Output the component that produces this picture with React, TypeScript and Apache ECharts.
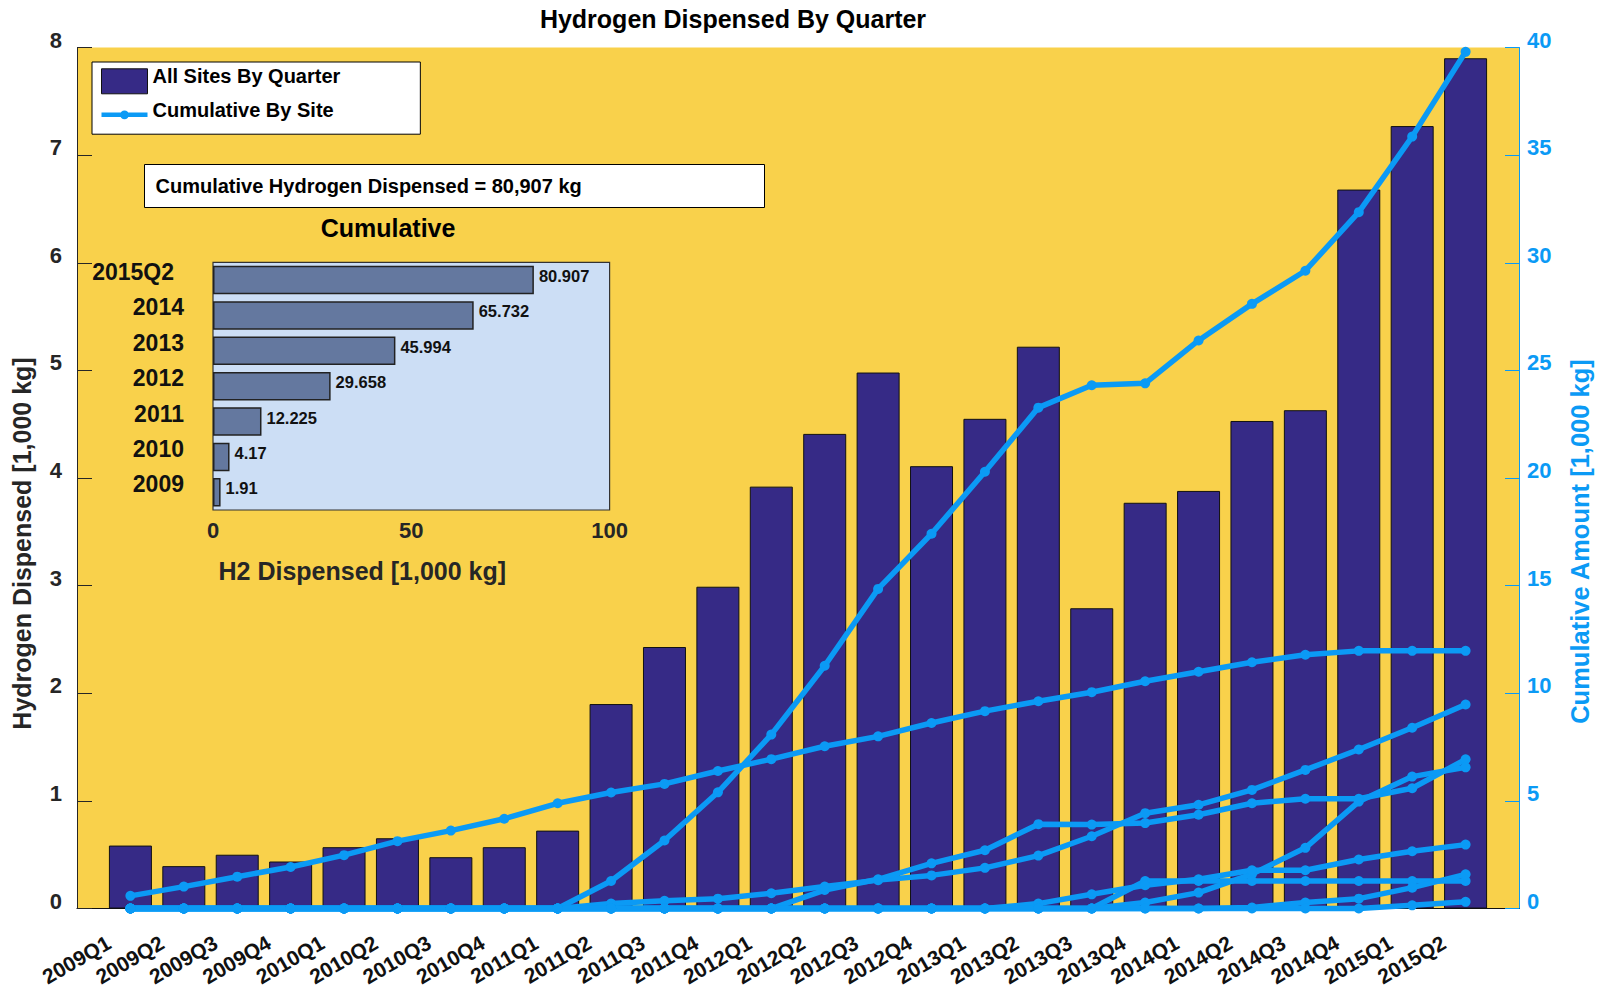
import React, { useEffect, useRef } from 'react';
import * as echarts from 'echarts';

const quarters = [
  '2009Q1', '2009Q2', '2009Q3', '2009Q4',
  '2010Q1', '2010Q2', '2010Q3', '2010Q4',
  '2011Q1', '2011Q2', '2011Q3', '2011Q4',
  '2012Q1', '2012Q2', '2012Q3', '2012Q4',
  '2013Q1', '2013Q2', '2013Q3', '2013Q4',
  '2014Q1', '2014Q2', '2014Q3', '2014Q4',
  '2015Q1', '2015Q2',
];

// All sites, hydrogen dispensed per quarter [1,000 kg]
const quarterlyDispensed = [
  0.585, 0.394, 0.5, 0.437,
  0.57, 0.653, 0.477, 0.57,
  0.724, 1.9, 2.43, 2.99,
  3.92, 4.41, 4.98, 4.11,
  4.55, 5.22, 2.79, 3.77,
  3.88, 4.53, 4.63, 6.68,
  7.27, 7.9,
];

// Cumulative amount by site [1,000 kg]
const siteA = [0, 0, 0, 0, 0, 0, 0, 0, 0, 1.28, 3.16, 5.4, 8.08, 11.28, 14.85, 17.41, 20.29, 23.27, 24.31, 24.4, 26.39, 28.09, 29.63, 32.35, 35.86, 39.8];
const siteB = [0.59, 1.02, 1.48, 1.93, 2.48, 3.13, 3.62, 4.17, 4.89, 5.39, 5.79, 6.39, 6.94, 7.54, 8.0, 8.62, 9.17, 9.63, 10.05, 10.56, 11.0, 11.44, 11.79, 11.97, 11.97, 11.97];
const siteC = [0, 0, 0, 0, 0, 0, 0, 0, 0, 0.23, 0.36, 0.46, 0.71, 1.02, 1.32, 1.54, 1.89, 2.46, 3.36, 4.43, 4.82, 5.51, 6.44, 7.39, 8.4, 9.48];
const siteD = [0, 0, 0, 0, 0, 0, 0, 0, 0, 0, 0, 0, 0, 0.86, 1.36, 2.1, 2.71, 3.92, 3.9, 3.97, 4.36, 4.89, 5.1, 5.1, 5.59, 6.93];
const siteE = [0, 0, 0, 0, 0, 0, 0, 0, 0, 0, 0, 0, 0, 0, 0, 0, 0, 0, 0, 0.28, 0.74, 1.6, 2.82, 4.97, 6.13, 6.56];
const siteF = [0, 0, 0, 0, 0, 0, 0, 0, 0, 0, 0, 0, 0, 0, 0, 0, 0, 0, 0, 1.28, 1.28, 1.28, 1.28, 1.28, 1.28, 1.28];
const siteG = [0, 0, 0, 0, 0, 0, 0, 0, 0, 0, 0, 0, 0, 0, 0, 0, 0, 0.23, 0.66, 1.08, 1.36, 1.78, 1.78, 2.28, 2.66, 2.97];
const siteH = [0, 0, 0, 0, 0, 0, 0, 0, 0, 0, 0, 0, 0, 0, 0, 0, 0, 0, 0, 0, 0, 0.05, 0.28, 0.46, 0.97, 1.59];
const siteI = [0, 0, 0, 0, 0, 0, 0, 0, 0, 0, 0, 0, 0, 0, 0, 0, 0, 0, 0, 0, 0, 0, 0, 0, 0.15, 0.31];

const sites = [siteA, siteB, siteC, siteD, siteE, siteF, siteG, siteH, siteI];

// Inset: cumulative total by year [1,000 kg]
const cumulativeYears = ['2009', '2010', '2011', '2012', '2013', '2014', '2015Q2'];
const cumulativeTotals = [1.91, 4.17, 12.225, 29.658, 45.994, 65.732, 80.907];

const BLUE = '#0B9AF5';
const BAR = '#362A86';
const YELLOW = '#F9D14B';
const DARK = '#262626';
const FONT = '"Liberation Sans", Arial, Helvetica, sans-serif';

export default function App() {
  const ref = useRef<HTMLDivElement>(null);

  useEffect(() => {
    if (!ref.current) return;
    const chart = echarts.init(ref.current, undefined, { renderer: 'svg' });

    const totalKg = Math.round(cumulativeTotals[cumulativeTotals.length - 1] * 1000).toLocaleString('en-US');

    const lineSeries = sites.map((s) => ({
      type: 'line',
      name: 'Cumulative By Site',
      xAxisIndex: 0,
      yAxisIndex: 1,
      data: s.map((v, i) => [i + 1, v]),
      symbol: 'circle',
      symbolSize: 10,
      lineStyle: { color: BLUE, width: 5.5 },
      itemStyle: { color: BLUE, borderWidth: 0 },
      z: 5,
      clip: false,
    }));

    const tickRich = (color: string) => ({
      a: { fontFamily: FONT, fontWeight: 'bold', fontSize: 22, color, padding: [0, 0, 15, 0] },
    });

    const option: any = {
      animation: false,
      textStyle: { fontFamily: FONT },
      title: [
        {
          text: 'Hydrogen Dispensed By Quarter',
          left: 733,
          top: 6,
          padding: 0,
          textAlign: 'center',
          textStyle: { fontFamily: FONT, fontWeight: 'bold', fontSize: 25, color: '#000' },
        },
        {
          text: 'Cumulative',
          left: 388,
          top: 215,
          padding: 0,
          textAlign: 'center',
          textStyle: { fontFamily: FONT, fontWeight: 'bold', fontSize: 25, color: '#000' },
        },
      ],
      legend: {
        orient: 'vertical',
        left: 92,
        top: 62,
        padding: [4.3, 80, 14.4, 9],
        itemGap: 5.5,
        itemWidth: 46,
        itemHeight: 25,
        selectedMode: false,
        backgroundColor: '#fff',
        borderColor: '#000',
        borderWidth: 1,
        formatter: '{a|{name}}',
        textStyle: {
          fontFamily: FONT,
          fontWeight: 'bold',
          fontSize: 20,
          color: '#000',
          rich: { a: { fontFamily: FONT, fontWeight: 'bold', fontSize: 20, color: '#000', padding: [0, 0, 10, 0] } },
        },
        data: [
          { name: 'All Sites By Quarter', icon: 'rect', itemStyle: { color: BAR, borderColor: '#111', borderWidth: 1 } },
          {
            name: 'Cumulative By Site',
            icon: 'path://M0,6.5L52,6.5L52,11.5L0,11.5Z M21,9A5,5 0 1,1 31,9A5,5 0 1,1 21,9Z',
            itemStyle: { color: BLUE, borderWidth: 0 },
          },
        ],
      },
      grid: [
        {
          left: 77,
          top: 47.5,
          right: 87,
          bottom: 76.3,
          show: true,
          backgroundColor: YELLOW,
          borderWidth: 0,
        },
        {
          left: 213,
          top: 262.3,
          width: 396.6,
          height: 247.7,
          show: true,
          backgroundColor: '#CCDEF5',
          borderColor: '#333',
          borderWidth: 1.2,
          z: 1,
        },
      ],
      xAxis: [
        {
          type: 'value',
          gridIndex: 0,
          min: 0,
          max: 27,
          interval: 1,
          splitLine: { show: false },
          axisTick: { show: false },
          axisLine: { show: true, onZero: false, lineStyle: { color: '#111', width: 1.2 } },
          axisLabel: {
            rotate: 30,
            margin: 20,
            padding: [0, 25, 0, 0],
            fontFamily: FONT,
            fontWeight: 'bold',
            fontSize: 21,
            color: '#111',
            formatter: (v: number) => quarters[Math.round(v) - 1] ?? '',
          },
        },
        {
          type: 'value',
          gridIndex: 1,
          min: 0,
          max: 100,
          interval: 50,
          axisLine: { show: false },
          axisTick: { show: false },
          splitLine: { show: true, lineStyle: { color: '#AEBDD0', width: 1 } },
          axisLabel: { margin: 9, fontFamily: FONT, fontWeight: 'bold', fontSize: 22, color: DARK },
          name: 'H2 Dispensed [1,000 kg]',
          nameLocation: 'middle',
          nameGap: 48,
          nameTextStyle: { fontFamily: FONT, fontWeight: 'bold', fontSize: 25, color: DARK, padding: [0, 98, 0, 0] },
        },
      ],
      yAxis: [
        {
          type: 'value',
          gridIndex: 0,
          position: 'left',
          min: 0,
          max: 8,
          interval: 1,
          splitLine: { show: false },
          axisLine: { show: true, lineStyle: { color: DARK, width: 1 } },
          axisTick: { show: true, inside: true, length: 15, lineStyle: { color: DARK } },
          axisLabel: {
            margin: 15,
            fontFamily: FONT,
            fontWeight: 'bold',
            fontSize: 22,
            color: DARK,
            formatter: (v: number) => '{a|' + v + '}',
            rich: tickRich(DARK),
          },
          name: 'Hydrogen Dispensed [1,000 kg]',
          nameLocation: 'middle',
          nameGap: 43,
          nameTextStyle: { fontFamily: FONT, fontWeight: 'bold', fontSize: 25, color: DARK, padding: [0, 131, 0, 0] },
        },
        {
          type: 'value',
          gridIndex: 0,
          position: 'right',
          min: 0,
          max: 40,
          interval: 5,
          splitLine: { show: false },
          axisLine: { show: true, lineStyle: { color: BLUE, width: 1 } },
          axisTick: { show: true, inside: true, length: 14, lineStyle: { color: BLUE } },
          axisLabel: {
            margin: 8,
            fontFamily: FONT,
            fontWeight: 'bold',
            fontSize: 22,
            color: BLUE,
            formatter: (v: number) => '{a|' + v + '}',
            rich: tickRich(BLUE),
          },
          name: 'Cumulative Amount [1,000 kg]',
          nameLocation: 'middle',
          nameGap: 48,
          nameTextStyle: { fontFamily: FONT, fontWeight: 'bold', fontSize: 25.5, color: BLUE, padding: [0, 127, 0, 0] },
        },
        {
          type: 'category',
          gridIndex: 1,
          data: cumulativeYears,
          axisLine: { show: false },
          axisTick: { show: false },
          axisLabel: {
            margin: 29,
            padding: [0, 0, 16, 0],
            fontFamily: FONT,
            fontWeight: 'bold',
            fontSize: 23,
            color: '#111',
            formatter: (v: string) => (v === '2015Q2' ? '{q|' + v + '}' : v),
            rich: { q: { fontFamily: FONT, fontWeight: 'bold', fontSize: 23, color: '#111', padding: [0, 10, 0, 0] } },
          },
        },
      ],
      series: [
        {
          type: 'bar',
          name: 'All Sites By Quarter',
          xAxisIndex: 0,
          yAxisIndex: 0,
          data: quarterlyDispensed.map((v, i) => [i + 1, v]),
          barWidth: 43,
          itemStyle: { color: BAR, borderColor: '#111', borderWidth: 1 },
          z: 2,
        },
        ...lineSeries,
        {
          type: 'bar',
          name: 'Cumulative',
          xAxisIndex: 1,
          yAxisIndex: 2,
          data: cumulativeTotals,
          barWidth: 28.5,
          itemStyle: { color: '#64789F', borderColor: '#222', borderWidth: 1.5 },
          label: {
            show: true,
            position: 'right',
            distance: 5,
            offset: [0, -4],
            fontFamily: FONT,
            fontWeight: 'bold',
            fontSize: 16.5,
            color: '#111',
          },
          z: 3,
        },
      ],
      graphic: [
        {
          type: 'group',
          left: 144,
          top: 164,
          children: [
            {
              type: 'rect',
              shape: { x: 0, y: 0, width: 620, height: 43 },
              style: { fill: '#fff', stroke: '#000', lineWidth: 1 },
            },
            {
              type: 'text',
              x: 11,
              y: 21.5,
              style: {
                text: 'Cumulative Hydrogen Dispensed = ' + totalKg + ' kg',
                fontFamily: FONT,
                fontWeight: 'bold',
                fontSize: 20,
                fill: '#000',
                verticalAlign: 'middle',
              },
            },
          ],
        },
      ],
    };

    chart.setOption(option);
    return () => chart.dispose();
  }, []);

  return (
    <div
      ref={ref}
      style={{ position: 'fixed', left: 0, top: 0, width: '1606px', height: '989px', background: '#fff' }}
    />
  );
}
